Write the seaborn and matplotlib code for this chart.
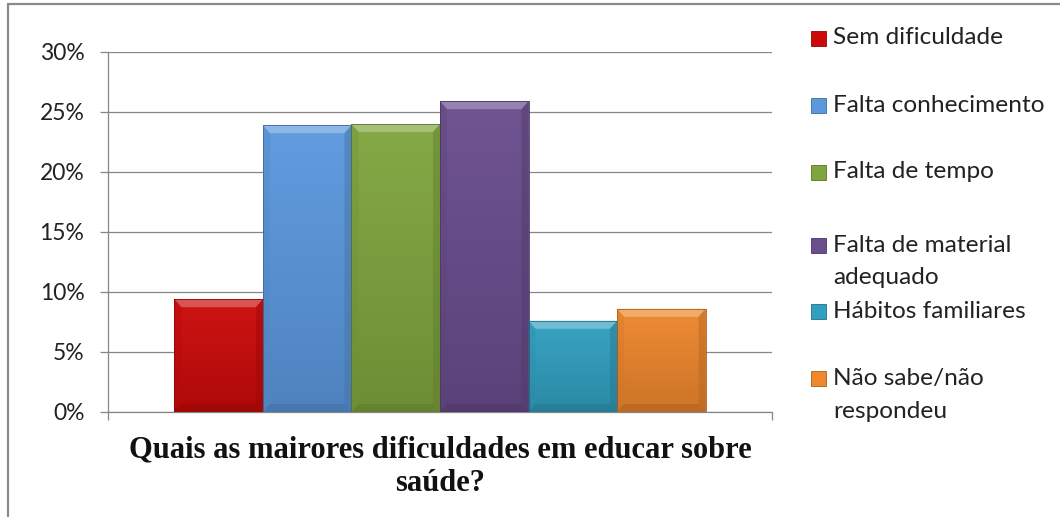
import textwrap
import numpy as np
import pandas as pd
import matplotlib
matplotlib.use("Agg")
import matplotlib.pyplot as plt
import matplotlib.colors as mcolors
from matplotlib.patches import Rectangle, Polygon
import seaborn as sns

# --- data -------------------------------------------------------------
pergunta = "Quais as mairores dificuldades em educar sobre saúde?"
categorias = [
    "Sem dificuldade",
    "Falta conhecimento",
    "Falta de tempo",
    "Falta de material\nadequado",
    "Hábitos familiares",
    "Não sabe/não\nrespondeu",
]
percentuais = [9.4, 23.9, 24.0, 25.9, 7.6, 8.6]
cores = ["#CC0A0A", "#5B98DE", "#80A53E", "#694D8D", "#31A0C0", "#EE872D"]
yticks = [0, 5, 10, 15, 20, 25, 30]

df = pd.DataFrame({
    "pergunta": [pergunta] * len(categorias),
    "categoria": categorias,
    "valor": percentuais,
})

# --- figure / layout --------------------------------------------------
W, H = 1060, 517
sns.set_theme(style="white")
plt.rcParams["font.family"] = ["Lato", "DejaVu Sans"]

fig = plt.figure(figsize=(W / 100, H / 100), dpi=100)
ax_l, ax_r, ax_t, ax_b = 108, 772, 52, 412
ax = fig.add_axes([ax_l / W, 1 - ax_b / H, (ax_r - ax_l) / W, (ax_b - ax_t) / H])

sns.barplot(data=df, x="pergunta", y="valor", hue="categoria",
            palette=cores, saturation=1, width=0.8, dodge=True,
            legend=False, ax=ax, zorder=3, linewidth=0)

ax.set_xlim(-0.5, 0.5)
ax.set_ylim(0, 30)

grid_c = "#868686"
ax.set_yticks(yticks)
ax.set_yticklabels([f"{v}%" for v in yticks])
ax.yaxis.grid(True, color=grid_c, linewidth=0.9, zorder=0)
ax.xaxis.grid(False)
for s in ["top", "right"]:
    ax.spines[s].set_visible(False)
for s in ["left", "bottom"]:
    ax.spines[s].set_color(grid_c)
    ax.spines[s].set_linewidth(0.9)
ax.tick_params(axis="y", which="major", left=True, length=6, width=0.9,
               color=grid_c, pad=11, labelsize=16.5, labelcolor="#222222")

# category label under the axis, with boundary ticks at the axis ends
ax.set_xticks([0])
ax.set_xticklabels([textwrap.fill(pergunta, 46)],
                   fontfamily=["Liberation Serif", "DejaVu Serif"],
                   fontweight="bold", fontsize=22, linespacing=1.2,
                   color="#111111")
ax.tick_params(axis="x", which="major", length=0, pad=17)
ax.set_xticks([-0.5, 0.5], minor=True)
ax.tick_params(axis="x", which="minor", bottom=True, length=6, width=0.9,
               color=grid_c)
ax.set_xlabel("")
ax.set_ylabel("")


def mix(c, other, t):
    a = np.array(mcolors.to_rgb(c))
    b = np.array(mcolors.to_rgb(other))
    return tuple(a * (1 - t) + b * t)


# soft-bevel shading on every bar
px_x = 1.0 / (ax_r - ax_l)          # data units per pixel (x)
px_y = 30.0 / (ax_b - ax_t)         # data units per pixel (y)
bev_x, bev_y = 7 * px_x, 8 * px_y
bars = [p for p in ax.patches if isinstance(p, Rectangle) and p.get_height() > 0]
bars.sort(key=lambda p: p.get_x())
for bar, cor in zip(bars, cores):
    x0, y0 = bar.get_x(), bar.get_y()
    w, h = bar.get_width(), bar.get_height()
    x1, y1 = x0 + w, y0 + h
    top_c = np.array(mix(cor, "white", 0.04))
    bot_c = np.array(mix(cor, "black", 0.14))
    t = np.linspace(0, 1, 64)[:, None]
    grad = (top_c[None, :] * (1 - t) + bot_c[None, :] * t)[:, None, :]
    im = ax.imshow(grad, extent=[x0, x1, y0, y1], origin="upper",
                   aspect="auto", zorder=3.1, interpolation="bilinear")
    im.set_clip_path(bar)
    ax.add_patch(Polygon([(x0, y1), (x1, y1), (x1 - bev_x, y1 - bev_y),
                          (x0 + bev_x, y1 - bev_y)], closed=True,
                         facecolor=mix(cor, "white", 0.3), edgecolor="none",
                         zorder=3.2))
    ax.add_patch(Polygon([(x0, y0), (x0, y1), (x0 + bev_x, y1 - bev_y),
                          (x0 + bev_x, y0 + bev_y)], closed=True,
                         facecolor=mix(cor, "black", 0.12), edgecolor="none",
                         zorder=3.2, alpha=0.35))
    ax.add_patch(Polygon([(x1, y0), (x1, y1), (x1 - bev_x, y1 - bev_y),
                          (x1 - bev_x, y0 + bev_y)], closed=True,
                         facecolor=mix(cor, "black", 0.25), edgecolor="none",
                         zorder=3.2, alpha=0.45))
    ax.add_patch(Polygon([(x0, y0), (x1, y0), (x1 - bev_x, y0 + bev_y),
                          (x0 + bev_x, y0 + bev_y)], closed=True,
                         facecolor=mix(cor, "black", 0.3), edgecolor="none",
                         zorder=3.2, alpha=0.45))
    ax.add_patch(Rectangle((x0, y0), w, h, facecolor="none",
                           edgecolor=mix(cor, "black", 0.3), linewidth=0.6,
                           zorder=3.3))

ax.set_xlim(-0.5, 0.5)
ax.set_ylim(0, 30)

# legend entries, one per slot, wrapped labels spill onto a second line
leg_x_marker, leg_x_text, marker_px, line_gap = 811, 833, 15, 33
leg_rows = [38, 105, 172, 245, 311, 378]
for cat, cor, yc in zip(categorias, cores, leg_rows):
    fig.patches.append(Rectangle(
        (leg_x_marker / W, 1 - (yc + marker_px / 2) / H),
        marker_px / W, marker_px / H, transform=fig.transFigure,
        facecolor=cor, edgecolor=mix(cor, "black", 0.3), linewidth=0.6))
    for k, linha in enumerate(cat.split("\n")):
        fig.text(leg_x_text / W, 1 - (yc + k * line_gap) / H, linha,
                 fontsize=17.6, va="center", ha="left", color="#222222")

# chart frame (extends past the right and bottom edges)
fig.patches.append(Rectangle((8 / W, -0.2), 1.2, 1 - 4 / H + 0.2,
                             transform=fig.transFigure, facecolor="none",
                             edgecolor="#8a8a8a", linewidth=1.6))

fig.savefig("out.png", dpi=100)
